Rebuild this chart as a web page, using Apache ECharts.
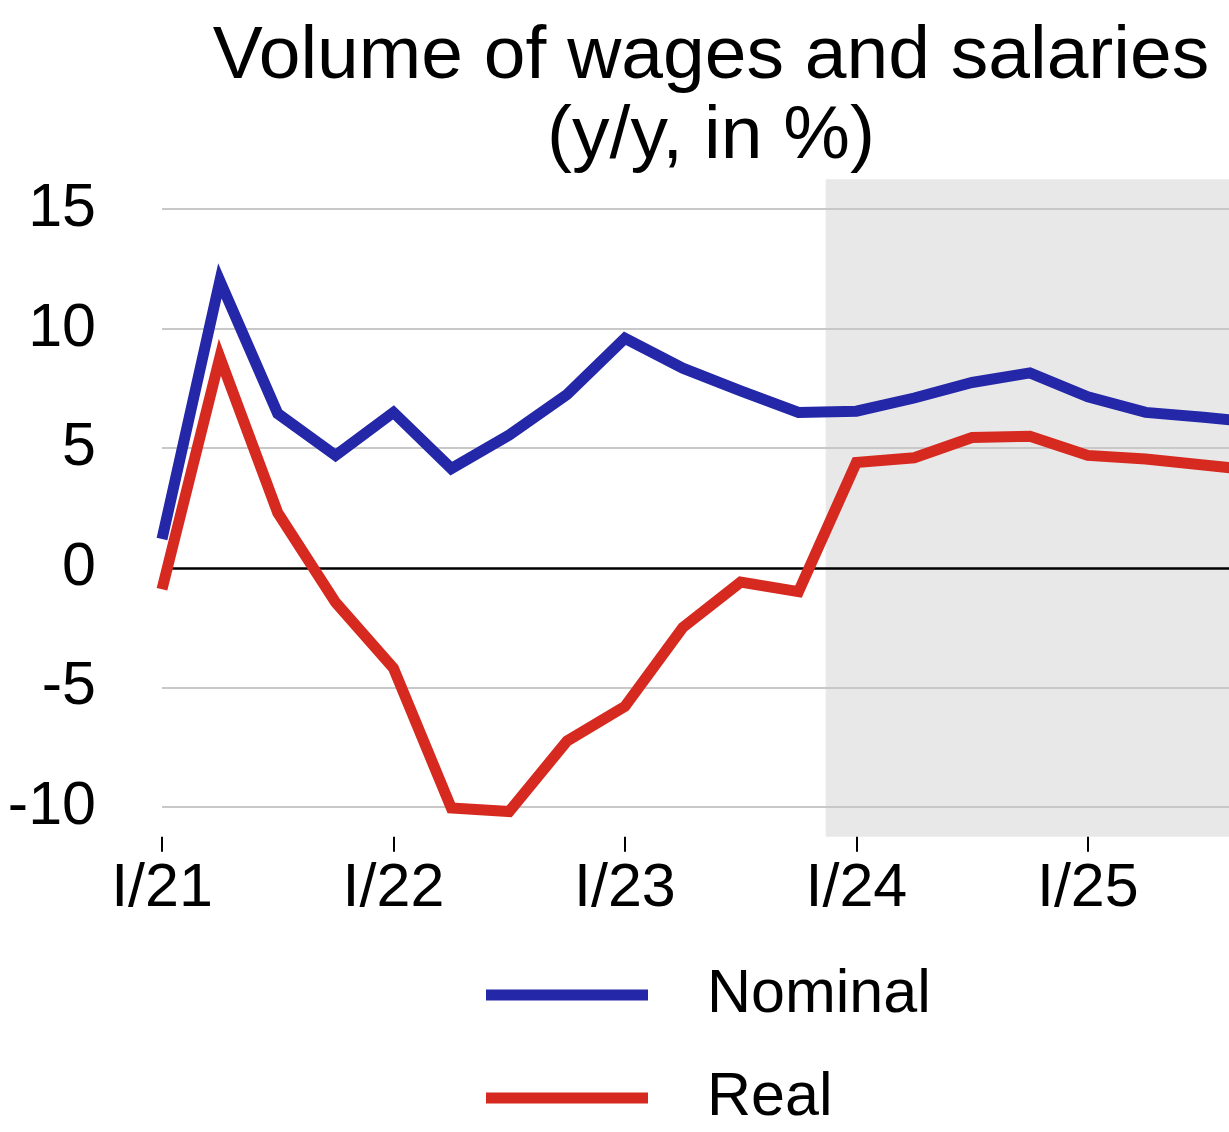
<!DOCTYPE html>
<html>
<head>
<meta charset="utf-8">
<script src="https://cdn.jsdelivr.net/npm/echarts@6/dist/echarts.min.js"></script>
<style>
html,body{margin:0;padding:0;background:#fff;}
#chart{width:1229px;height:1132px;}
</style>
</head>
<body>
<div id="chart"></div>
<script>
// Quarters I/21 .. IV/25 (index 0 = I/21)
var quarters = ['I/21','II/21','III/21','IV/21','I/22','II/22','III/22','IV/22','I/23','II/23','III/23','IV/23','I/24','II/24','III/24','IV/24','I/25','II/25','III/25','IV/25'];
var nominal = [1.2, 12.0, 6.45, 4.7, 6.5, 4.15, 5.55, 7.25, 9.6, 8.35, 7.4, 6.5, 6.55, 7.1, 7.75, 8.15, 7.15, 6.5, 6.3, 6.05];
var real    = [-0.9, 8.8, 2.3, -1.45, -4.2, -10.05, -10.2, -7.25, -5.8, -2.5, -0.6, -1.0, 4.4, 4.6, 5.45, 5.5, 4.7, 4.55, 4.3, 4.05];
var xTickLabels = ['I/21','I/22','I/23','I/24','I/25'];
var yTicks = [-10, -5, 0, 5, 10, 15];
var forecastStart = 11.47; // shaded region begins between IV/23 and I/24

var FONT = '"Liberation Sans", Arial, Helvetica, sans-serif';

function pairs(arr) {
  return arr.map(function (v, i) { return [i, v]; });
}

var chart = echarts.init(document.getElementById('chart'), null, {renderer: 'canvas'});
chart.setOption({
  backgroundColor: '#ffffff',
  animation: false,
  title: {
    text: 'Volume of wages and salaries\n(y/y, in %)',
    left: 706,
    top: 12,
    textAlign: 'center',
    textStyle: {
      fontFamily: FONT,
      fontSize: 75,
      fontWeight: 'normal',
      color: '#000',
      lineHeight: 80
    }
  },
  legend: {
    orient: 'vertical',
    left: 486,
    top: 957.5,
    height: 500,
    padding: 0,
    itemWidth: 162,
    itemHeight: 11,
    itemGap: 28,
    icon: 'rect',
    data: ['Nominal', 'Real'],
    textStyle: {
      fontFamily: FONT,
      fontSize: 61,
      color: '#000',
      lineHeight: 62,
      padding: [13, 0, 0, 54]
    }
  },
  grid: {
    left: 162,
    right: 0,
    top: 179.3,
    bottom: 295.3,
    containLabel: false
  },
  xAxis: {
    type: 'value',
    min: 0,
    max: 18.44,
    interval: 4,
    axisLine: {show: false, onZero: false},
    axisTick: {show: true, length: 15, lineStyle: {color: '#000', width: 2}},
    splitLine: {show: false},
    axisLabel: {
      margin: 22,
      fontFamily: FONT,
      fontSize: 61,
      color: '#000',
      showMaxLabel: false,
      formatter: function (v) {
        var k = Math.round(v / 4);
        return (Math.abs(v - k * 4) < 1e-6 && xTickLabels[k]) ? xTickLabels[k] : '';
      }
    }
  },
  yAxis: {
    type: 'value',
    min: -11.25,
    max: 16.25,
    axisLine: {show: false},
    axisTick: {show: false},
    splitLine: {show: false},
    axisLabel: {
      customValues: yTicks,
      margin: 66,
      fontFamily: FONT,
      fontSize: 61,
      color: '#000'
    }
  },
  series: [
    {
      name: '_bg',
      type: 'line',
      data: [],
      z: 0,
      silent: true,
      markArea: {
        silent: true,
        z: 0,
        itemStyle: {color: '#e8e8e8'},
        data: [[{xAxis: forecastStart}, {xAxis: 18.44}]]
      },
      markLine: {
        silent: true,
        symbol: 'none',
        z: 1,
        label: {show: false},
        lineStyle: {color: '#c8c8c8', width: 2, type: 'solid'},
        data: yTicks.filter(function (v) { return v !== 0; }).map(function (v) { return {yAxis: v}; })
      }
    },
    {
      name: '_zero',
      type: 'line',
      data: [],
      z: 1,
      silent: true,
      markLine: {
        silent: true,
        symbol: 'none',
        z: 1,
        label: {show: false},
        lineStyle: {color: '#000', width: 2.5, type: 'solid'},
        data: [{yAxis: 0}]
      }
    },
    {
      name: 'Nominal',
      type: 'line',
      data: pairs(nominal),
      z: 3,
      symbol: 'none',
      clip: true,
      lineStyle: {color: '#2427a8', width: 11, join: 'miter'},
      itemStyle: {color: '#2427a8'}
    },
    {
      name: 'Real',
      type: 'line',
      data: pairs(real),
      z: 3,
      symbol: 'none',
      clip: true,
      lineStyle: {color: '#d62a20', width: 11, join: 'miter'},
      itemStyle: {color: '#d62a20'}
    }
  ]
});
</script>
</body>
</html>
